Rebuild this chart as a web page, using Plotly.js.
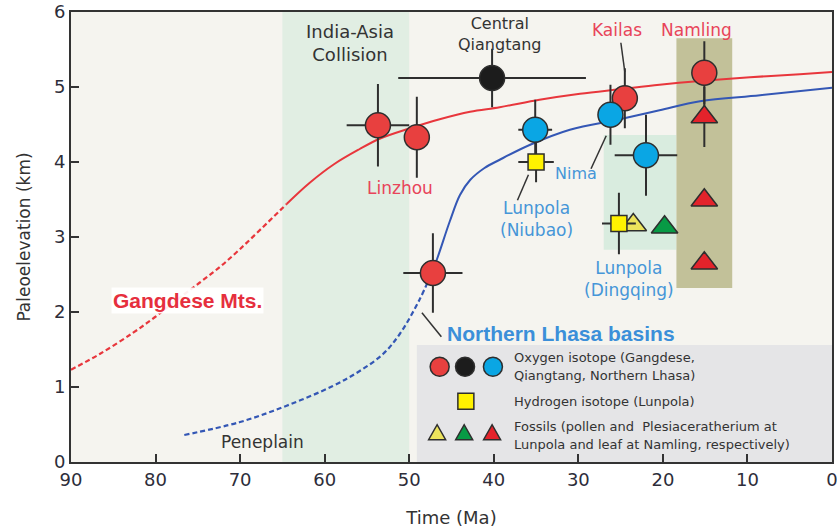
<!DOCTYPE html>
<html>
<head>
<meta charset="utf-8">
<script src="https://cdn.plot.ly/plotly-3.0.1.min.js"></script>
<style>html,body{margin:0;padding:0;background:#fff;}#chart{width:837px;height:530px;}</style>
</head>
<body>
<div id="chart"></div>
<script>
// ---------- Curves ----------
const gangdeseDashAge  = [90, 86.6, 82.7, 80.1, 77.5, 74.8, 72.4, 70.1, 67.5, 64.5];
const gangdeseDashElev = [1.23, 1.44, 1.72, 1.93, 2.16, 2.39, 2.6, 2.83, 3.11, 3.44];
const gangdeseSolidAge  = [64.5, 61.8, 58.9, 55.9, 53.5, 49.9, 46.4, 42.8, 39.3, 34.6, 29.8, 25.1, 20.4, 15.6, 9.7, 3.8, 0];
const gangdeseSolidElev = [3.44, 3.72, 3.97, 4.17, 4.31, 4.45, 4.57, 4.67, 4.73, 4.83, 4.91, 4.97, 5.03, 5.08, 5.13, 5.17, 5.2];

const lhasaDashAge  = [76.6, 70.1, 64.5, 59.1, 55.9, 53.1, 51.1, 48.8, 47.5];
const lhasaDashElev = [0.36, 0.53, 0.75, 1.01, 1.21, 1.44, 1.71, 2.16, 2.48];
const lhasaSolidAge  = [47.5, 46.7, 45.2, 44.0, 42.8, 41.1, 39.3, 35.7, 31.0, 25.1, 20.4, 15.6, 8.5, 0];
const lhasaSolidElev = [2.48, 2.71, 3.21, 3.56, 3.76, 3.92, 4.03, 4.23, 4.43, 4.57, 4.69, 4.81, 4.89, 4.99];

// ---------- Oxygen isotope: Gangdese (red) ----------
const gangdeseAge     = [53.7, 49.1, 47.2, 24.5, 15.1];
const gangdeseElev    = [4.49, 4.33, 2.52, 4.85, 5.19];
const gangdeseAgeErr  = [3.7, 0, 3.5, 0, 0];
const gangdeseElevErr = [0.55, 0.54, 0.53, 0.4, 0.42];

// ---------- Oxygen isotope: Central Qiangtang (black) ----------
const qiangtangAge     = [40.2];
const qiangtangElev    = [5.12];
const qiangtangAgeErr  = [11.1];
const qiangtangElevErr = [0.39];

// ---------- Oxygen isotope: Northern Lhasa (blue) ----------
const nLhasaAge     = [35.1, 26.2, 22.0];
const nLhasaElev    = [4.43, 4.63, 4.09];
const nLhasaAgeErr  = [2.0, 0, 3.7];
const nLhasaElevErr = [0.4, 0.4, 0.54];

// ---------- Hydrogen isotope: Lunpola (yellow squares) ----------
const hydrogenAge     = [35.0, 25.2];
const hydrogenElev    = [4.0, 3.18];
const hydrogenAgeErr  = [2.1, 2.0];
const hydrogenElevErr = [0.27, 0.41];

// ---------- Fossils ----------
const pollenAge = [23.5];  const pollenElev = [3.16];
const rhinoAge  = [19.8];  const rhinoElev  = [3.13];
const leafAge     = [15.1, 15.1, 15.1];
const leafElev    = [4.6, 3.49, 2.65];
const leafElevErr = [0.4, 0, 0];

// ---------- Axis ticks ----------
const xTickVals = [90, 80, 70, 60, 50, 40, 30, 20, 10, 0];
const yTickVals = [0, 1, 2, 3, 4, 5, 6];

const DARK = '#2e2e2e';
const REDC = '#e8403f';
const BLUEC = '#0aa6e4';
const REDLINE = '#e8363c';
const BLUELINE = '#3457b5';
const RED_TXT = '#e8445a';
const BLUE_TXT = '#4596d8';
const FONT = 'DejaVu Sans, sans-serif';

function errPts(name, xs, ys, ex, ey, symbol, size, color) {
  const t = {
    type: 'scatter', mode: 'markers', name: name, x: xs, y: ys,
    marker: {symbol: symbol, size: size, color: color, line: {color: DARK, width: 1.5}},
    showlegend: false, hoverinfo: 'x+y'
  };
  if (ex) t.error_x = {type: 'data', array: ex, visible: true, color: DARK, thickness: 2, width: 0};
  if (ey) t.error_y = {type: 'data', array: ey, visible: true, color: DARK, thickness: 2, width: 0};
  return t;
}

const traces = [
  {type: 'scatter', mode: 'lines', x: gangdeseDashAge, y: gangdeseDashElev, line: {color: REDLINE, width: 2.2, dash: '5px,3px', shape: 'spline', smoothing: 1}, showlegend: false, hoverinfo: 'skip'},
  {type: 'scatter', mode: 'lines', x: gangdeseSolidAge, y: gangdeseSolidElev, line: {color: REDLINE, width: 2, shape: 'spline', smoothing: 1}, showlegend: false, hoverinfo: 'skip'},
  {type: 'scatter', mode: 'lines', x: lhasaDashAge, y: lhasaDashElev, line: {color: BLUELINE, width: 2.2, dash: '5px,3px', shape: 'spline', smoothing: 1}, showlegend: false, hoverinfo: 'skip'},
  {type: 'scatter', mode: 'lines', x: lhasaSolidAge, y: lhasaSolidElev, line: {color: BLUELINE, width: 2, shape: 'spline', smoothing: 1}, showlegend: false, hoverinfo: 'skip'},
  errPts('Qiangtang', qiangtangAge, qiangtangElev, qiangtangAgeErr, qiangtangElevErr, 'circle', 25, '#1c1c1c'),
  errPts('Gangdese', gangdeseAge, gangdeseElev, gangdeseAgeErr, gangdeseElevErr, 'circle', 25, REDC),
  errPts('Northern Lhasa', nLhasaAge, nLhasaElev, nLhasaAgeErr, nLhasaElevErr, 'circle', 25, BLUEC),
  errPts('Pollen', pollenAge, pollenElev, null, null, 'triangle-up', 23, '#ece35c'),
  errPts('Plesiaceratherium', rhinoAge, rhinoElev, null, null, 'triangle-up', 23, '#079a45'),
  errPts('Leaf', leafAge, leafElev, null, leafElevErr, 'triangle-up', 23, '#e3232b'),
  errPts('Hydrogen isotope', hydrogenAge, hydrogenElev, hydrogenAgeErr, hydrogenElevErr, 'square', 16, '#fff200')
];

function circ(x, y, r, fill) {
  return {type: 'circle', xref: 'x', yref: 'y', xsizemode: 'pixel', ysizemode: 'pixel', xanchor: x, yanchor: y,
    x0: -r, x1: r, y0: -r, y1: r, fillcolor: fill, line: {color: DARK, width: 1.5}, layer: 'above'};
}
function sq(x, y, r, fill) {
  return {type: 'rect', xref: 'x', yref: 'y', xsizemode: 'pixel', ysizemode: 'pixel', xanchor: x, yanchor: y,
    x0: -r, x1: r, y0: -r, y1: r, fillcolor: fill, line: {color: DARK, width: 1.5}, layer: 'above'};
}
function tri(x, y, fill) {
  return {type: 'path', xref: 'x', yref: 'y', xsizemode: 'pixel', ysizemode: 'pixel', xanchor: x, yanchor: y,
    path: 'M-8.5,-7L8.5,-7L0,8Z', fillcolor: fill, line: {color: DARK, width: 1.5}, layer: 'above'};
}
function seg(x0, y0, x1, y1) {
  return {type: 'line', xref: 'x', yref: 'y', x0: x0, y0: y0, x1: x1, y1: y1, line: {color: '#333', width: 1.5}, layer: 'above'};
}

const shapes = [
  {type: 'rect', xref: 'x', yref: 'y', x0: 65, x1: 50, y0: 0, y1: 6, fillcolor: '#e1eee3', line: {width: 0}, layer: 'below'},
  {type: 'rect', xref: 'x', yref: 'y', x0: 27, x1: 18.4, y0: 2.83, y1: 4.36, fillcolor: '#d9ecdf', line: {width: 0}, layer: 'below'},
  {type: 'rect', xref: 'x', yref: 'y', x0: 18.4, x1: 11.8, y0: 2.32, y1: 5.65, fillcolor: '#c2c199', line: {width: 0}, layer: 'below'},
  {type: 'rect', xref: 'x', yref: 'y', x0: 49.1, x1: 0, y0: 0, y1: 1.56, fillcolor: '#e5e5e7', line: {width: 0}, layer: 'below'},
  // leader lines
  seg(24.97, 5.59, 24.5, 5.2),
  seg(26.7, 4.35, 28.5, 3.91),
  seg(35.9, 3.83, 37.2, 3.49),
  seg(48.5, 1.99, 46.2, 1.67),
  // legend symbols
  circ(46.4, 1.27, 9.5, REDC), circ(43.4, 1.27, 9.5, '#1c1c1c'), circ(40.1, 1.27, 9.5, BLUEC),
  sq(43.3, 0.81, 8, '#fff200'),
  tri(46.7, 0.39, '#ece35c'), tri(43.5, 0.39, '#079a45'), tri(40.2, 0.39, '#e3232b')
];

function ann(x, y, text, size, color, extra) {
  return Object.assign({x: x, y: y, xref: 'x', yref: 'y', text: text, showarrow: false,
    font: {family: FONT, size: size, color: color}, xanchor: 'center', yanchor: 'middle'}, extra || {});
}
function legTxt(y, text) {
  return ann(37.9, y, text, 13, '#333', {xanchor: 'left'});
}

const annotations = [
  ann(57.0, 5.59, 'India-Asia<br>Collision', 18, '#333'),
  ann(39.3, 5.71, 'Central<br>Qiangtang', 16, '#333'),
  ann(25.4, 5.76, 'Kailas', 17, RED_TXT),
  ann(16.0, 5.76, 'Namling', 17, RED_TXT),
  ann(51.1, 3.65, 'Linzhou', 17, RED_TXT),
  ann(30.3, 3.85, 'Nima', 16, BLUE_TXT),
  ann(35.0, 3.24, 'Lunpola<br>(Niubao)', 17, BLUE_TXT),
  ann(24.0, 2.44, 'Lunpola<br>(Dingqing)', 17, BLUE_TXT),
  ann(76.2, 2.16, '<b>Gangdese Mts.</b>', 21, '#e62f3d', {font: {family: 'Liberation Sans, Arial, sans-serif', size: 21, color: '#e62f3d'}, bgcolor: 'rgba(255,255,255,0.92)', borderpad: 1}),
  ann(32.0, 1.71, '<b>Northern Lhasa basins</b>', 21, '#3b8fd9', {font: {family: 'Liberation Sans, Arial, sans-serif', size: 21, color: '#3b8fd9'}}),
  ann(67.3, 0.27, 'Peneplain', 17, '#333'),
  legTxt(1.39, 'Oxygen isotope (Gangdese,'),
  legTxt(1.16, 'Qiangtang, Northern Lhasa)'),
  legTxt(0.81, 'Hydrogen isotope (Lunpola)'),
  legTxt(0.48, 'Fossils (pollen and  Plesiaceratherium at'),
  legTxt(0.23, 'Lunpola and leaf at Namling, respectively)')
];

const axisCommon = {
  showline: true, mirror: true, linecolor: '#333', linewidth: 2,
  ticks: 'inside', ticklen: 8, tickwidth: 2, tickcolor: '#333',
  showgrid: false, zeroline: false, ticklabeloverflow: 'allow',
  tickfont: {family: FONT, size: 18, color: '#2d2d3a'}
};

const layout = {
  width: 837, height: 530,
  margin: {l: 71, r: 5, t: 12, b: 68},
  paper_bgcolor: '#ffffff', plot_bgcolor: '#f5f4ef',
  showlegend: false,
  xaxis: Object.assign({}, axisCommon, {range: [90, 0], tickvals: xTickVals,
    title: {text: 'Time (Ma)', font: {family: FONT, size: 18, color: '#333'}, standoff: 23}}),
  yaxis: Object.assign({}, axisCommon, {range: [0, 6], tickvals: yTickVals,
    title: {text: 'Paleoelevation (km)', font: {family: FONT, size: 17, color: '#333'}, standoff: 19}}),
  shapes: shapes,
  annotations: annotations
};

Plotly.newPlot('chart', traces, layout, {displayModeBar: false, staticPlot: true});
</script>
</body>
</html>
